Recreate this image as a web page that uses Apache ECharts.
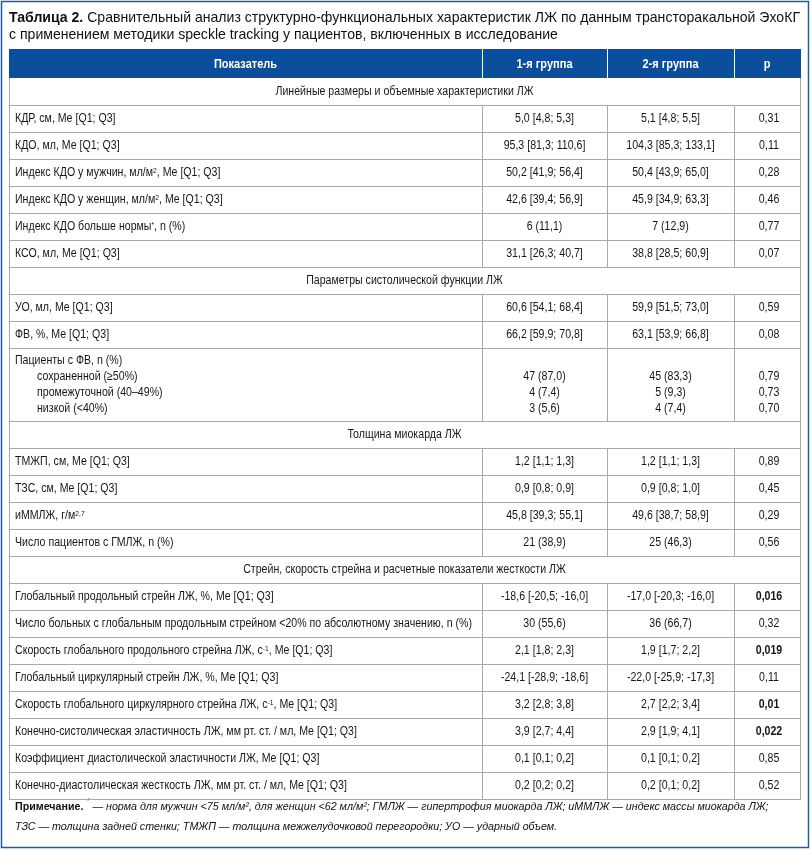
<!DOCTYPE html>
<html><head><meta charset="utf-8">
<script src="https://cdn.jsdelivr.net/npm/echarts@6/dist/echarts.min.js"></script>
<style>html,body{margin:0;padding:0;background:#fff}#c{width:811px;height:851px}</style>
</head><body><div id="c"></div>
<script>
const FONT = '"Liberation Sans", Arial, sans-serif';

// ---------- DATA ----------
const headers = ['Показатель', '1-я группа', '2-я группа', 'p'];
const sections = [
  'Линейные размеры и объемные характеристики ЛЖ',
  'Параметры систолической функции ЛЖ',
  'Толщина миокарда ЛЖ',
  'Стрейн, скорость стрейна и расчетные показатели жесткости ЛЖ'
];
const indicators = [
  'КДР, см, Me [Q1; Q3]',
  'КДО, мл, Me [Q1; Q3]',
  'Индекс КДО у мужчин, мл/м{sup|2}, Me [Q1; Q3]',
  'Индекс КДО у женщин, мл/м{sup|2}, Me [Q1; Q3]',
  'Индекс КДО больше нормы{sup|*}, n (%)',
  'КСО, мл, Me [Q1; Q3]',
  'УО, мл, Me [Q1; Q3]',
  'ФВ, %, Me [Q1; Q3]',
  'Пациенты с ФВ, n (%)',
  'ТМЖП, см, Me [Q1; Q3]',
  'ТЗС, см, Me [Q1; Q3]',
  'иММЛЖ, г/м{sup|2,7}',
  'Число пациентов с ГМЛЖ, n (%)',
  'Глобальный продольный стрейн ЛЖ, %, Me [Q1; Q3]',
  'Число больных с глобальным продольным стрейном <20% по абсолютному значению, n (%)',
  'Скорость глобального продольного стрейна ЛЖ, с{sup|-1}, Me [Q1; Q3]',
  'Глобальный циркулярный стрейн ЛЖ, %, Me [Q1; Q3]',
  'Скорость глобального циркулярного стрейна ЛЖ, с{sup|-1}, Me [Q1; Q3]',
  'Конечно-систолическая эластичность ЛЖ, мм рт. ст. / мл, Me [Q1; Q3]',
  'Коэффициент диастолической эластичности ЛЖ, Me [Q1; Q3]',
  'Конечно-диастолическая жесткость ЛЖ, мм рт. ст. / мл, Me [Q1; Q3]'
];
const rowSection = [0,0,0,0,0,0, 1,1,1, 2,2,2,2, 3,3,3,3,3,3,3,3];
const subItems = { 8: ['сохраненной (≥50%)', 'промежуточной (40–49%)', 'низкой (<40%)'] };
const group1 = [
  '5,0 [4,8; 5,3]', '95,3 [81,3; 110,6]', '50,2 [41,9; 56,4]', '42,6 [39,4; 56,9]', '6 (11,1)', '31,1 [26,3; 40,7]',
  '60,6 [54,1; 68,4]', '66,2 [59,9; 70,8]', ['47 (87,0)', '4 (7,4)', '3 (5,6)'],
  '1,2 [1,1; 1,3]', '0,9 [0,8; 0,9]', '45,8 [39,3; 55,1]', '21 (38,9)',
  '-18,6 [-20,5; -16,0]', '30 (55,6)', '2,1 [1,8; 2,3]', '-24,1 [-28,9; -18,6]', '3,2 [2,8; 3,8]', '3,9 [2,7; 4,4]', '0,1 [0,1; 0,2]', '0,2 [0,2; 0,2]'
];
const group2 = [
  '5,1 [4,8; 5,5]', '104,3 [85,3; 133,1]', '50,4 [43,9; 65,0]', '45,9 [34,9; 63,3]', '7 (12,9)', '38,8 [28,5; 60,9]',
  '59,9 [51,5; 73,0]', '63,1 [53,9; 66,8]', ['45 (83,3)', '5 (9,3)', '4 (7,4)'],
  '1,2 [1,1; 1,3]', '0,9 [0,8; 1,0]', '49,6 [38,7; 58,9]', '25 (46,3)',
  '-17,0 [-20,3; -16,0]', '36 (66,7)', '1,9 [1,7; 2,2]', '-22,0 [-25,9; -17,3]', '2,7 [2,2; 3,4]', '2,9 [1,9; 4,1]', '0,1 [0,1; 0,2]', '0,2 [0,1; 0,2]'
];
const pValues = [
  '0,31', '0,11', '0,28', '0,46', '0,77', '0,07',
  '0,59', '0,08', ['0,79', '0,73', '0,70'],
  '0,89', '0,45', '0,29', '0,56',
  '0,016', '0,32', '0,019', '0,11', '0,01', '0,022', '0,85', '0,52'
];
const significantRows = [13, 15, 17, 18];
const titleBold = 'Таблица 2.';
const titleLine1 = 'Сравнительный анализ структурно-функциональных характеристик ЛЖ по данным трансторакальной ЭхоКГ';
const titleLine2 = 'с применением методики speckle tracking у пациентов, включенных в исследование';
const noteBold = 'Примечание.';
const noteLine1 = ' — норма для мужчин <75 мл/м², для женщин <62 мл/м²; ГМЛЖ — гипертрофия миокарда ЛЖ; иММЛЖ — индекс массы миокарда ЛЖ;';
const noteLine2 = 'ТЗС — толщина задней стенки; ТМЖП — толщина межжелудочковой перегородки; УО — ударный объем.';

// ---------- LAYOUT ----------
const W = 791;
const colEdges = [0, 473, 598, 725, 791];
const HEADER_H = 29, ROW_H = 27, TALL_H = 73, LINE_H = 16;
const HEADER_BLUE = '#0b4f9c', FRAME_BLUE = '#1f5ba7', GRID_GRAY = '#a9a9a9', TXT = '#161616';
const FS = 12.5, TFS = 14.5, NFS = 11.5;

// narrow-face emulation: horizontal scale computed from measured widths
const mctx = document.createElement('canvas').getContext('2d');
function measure(str, size, extra) { mctx.font = (extra || '') + ' ' + size + 'px ' + FONT; return mctx.measureText(str).width; }
const SX = 457 / measure(indicators[14], FS);
const TSX = 791 / (measure(titleBold, TFS, 'bold') + measure(' ' + titleLine1, TFS));
const NSX = 542 / measure(noteLine2, NFS, 'italic');

const rows = [];
let yy = 0;
rows.push({kind: 'header', y0: yy, y1: yy + HEADER_H}); yy += HEADER_H;
let cur = -1;
indicators.forEach((name, i) => {
  if (rowSection[i] !== cur) {
    cur = rowSection[i];
    rows.push({kind: 'section', text: sections[cur], y0: yy, y1: yy + ROW_H}); yy += ROW_H;
  }
  const tall = Array.isArray(group1[i]);
  const h = tall ? TALL_H : ROW_H;
  rows.push({kind: tall ? 'tall' : 'data', i, y0: yy, y1: yy + h}); yy += h;
});
const TOTAL = yy;

const richSup = {
  sup: {fontSize: 8, verticalAlign: 'top', lineHeight: 8, fontFamily: FONT, fill: TXT, padding: [0, 0, 6, 0]}
};

function txt(x, y, text, opt) {
  opt = opt || {};
  return {
    type: 'text', x, y, scaleX: SX, silent: true,
    style: Object.assign({
      text, fontFamily: FONT, fontSize: FS, fill: TXT,
      align: 'center', verticalAlign: 'middle', rich: richSup
    }, opt)
  };
}
function hline(x1, x2, y, color) {
  const yc = Math.round(y) + 0.5;
  return {type: 'line', silent: true, shape: {x1, y1: yc, x2, y2: yc}, style: {stroke: color || GRID_GRAY, lineWidth: 1}};
}
function vline(x, y1, y2, color) {
  const xc = Math.round(x) + 0.5;
  return {type: 'line', silent: true, shape: {x1: xc, y1, x2: xc, y2}, style: {stroke: color || GRID_GRAY, lineWidth: 1}};
}

function renderItem(params, api) {
  const r = rows[params.dataIndex];
  const top = api.coord([0, api.value(1)])[1];
  const bot = api.coord([0, api.value(2)])[1];
  const xs = colEdges.map(e => api.coord([e, 0])[0]);
  const mid = (top + bot) / 2;
  const ch = [];
  if (r.kind === 'header') {
    ch.push({type: 'rect', silent: true, shape: {x: xs[0], y: top, width: xs[4] - xs[0] + 1, height: bot - top}, style: {fill: HEADER_BLUE}});
    for (let k = 1; k < 4; k++) ch.push(vline(xs[k], top, bot, '#ffffff'));
    headers.forEach((t, k) => ch.push(txt((xs[k] + xs[k + 1]) / 2, mid + 1, t, {fill: '#ffffff', fontWeight: 'bold', fontSize: 13})));
    return {type: 'group', children: ch};
  }
  ch.push(hline(xs[0], xs[4] + 1, bot));
  ch.push(vline(xs[0], top, bot + 1));
  ch.push(vline(xs[4], top, bot + 1));
  if (r.kind === 'section') {
    ch.push(txt((xs[0] + xs[4]) / 2, mid + 0.5, r.text));
  } else if (r.kind === 'data') {
    const i = r.i;
    for (let k = 1; k < 4; k++) ch.push(vline(xs[k], top, bot + 1));
    ch.push(txt(xs[0] + 6, mid + 0.5, indicators[i], {align: 'left'}));
    ch.push(txt((xs[1] + xs[2]) / 2, mid + 0.5, group1[i]));
    ch.push(txt((xs[2] + xs[3]) / 2, mid + 0.5, group2[i]));
    ch.push(txt((xs[3] + xs[4]) / 2 + 2, mid + 0.5, pValues[i],
      significantRows.indexOf(i) >= 0 ? {fontWeight: 'bold'} : {}));
  } else {
    const i = r.i;
    for (let k = 1; k < 4; k++) ch.push(vline(xs[k], top, bot + 1));
    const y0 = mid - 1.5 * LINE_H;
    ch.push(txt(xs[0] + 6, y0, indicators[i], {align: 'left'}));
    subItems[i].forEach((s, j) => ch.push(txt(xs[0] + 28, y0 + (j + 1) * LINE_H, s, {align: 'left'})));
    group1[i].forEach((s, j) => ch.push(txt((xs[1] + xs[2]) / 2, y0 + (j + 1) * LINE_H, s)));
    group2[i].forEach((s, j) => ch.push(txt((xs[2] + xs[3]) / 2, y0 + (j + 1) * LINE_H, s)));
    pValues[i].forEach((s, j) => ch.push(txt((xs[3] + xs[4]) / 2 + 2, y0 + (j + 1) * LINE_H, s)));
  }
  return {type: 'group', children: ch};
}

const chart = echarts.init(document.getElementById('c'), null, {renderer: 'canvas'});
chart.setOption({
  animation: false,
  backgroundColor: '#ffffff',
  grid: {left: 9, top: 49, width: W, height: TOTAL, containLabel: false},
  xAxis: {type: 'value', min: 0, max: W, show: false},
  yAxis: {type: 'value', min: 0, max: TOTAL, inverse: true, show: false},
  graphic: [
    {
      type: 'rect', silent: true, z: 100,
      shape: {x: 1.5, y: 1.5, width: 807, height: 846},
      style: {fill: 'none', stroke: FRAME_BLUE, lineWidth: 1.5}
    },
    {
      type: 'text', silent: true, x: 9, y: 10, scaleX: TSX,
      style: {
        text: '{b|' + titleBold + '}{n| ' + titleLine1 + '}\n{n|' + titleLine2 + '}',
        align: 'left', verticalAlign: 'top',
        rich: {
          b: {fontFamily: FONT, fontSize: TFS, fontWeight: 'bold', fill: '#111', lineHeight: 16.5},
          n: {fontFamily: FONT, fontSize: TFS, fontWeight: 'normal', fill: '#111', lineHeight: 16.5}
        }
      }
    },
    {
      type: 'text', silent: true, x: 15, y: 797, scaleX: NSX,
      style: {
        text: '{b|' + noteBold + '} {s|*}{i|' + noteLine1 + '}\n{i|' + noteLine2 + '}',
        align: 'left', verticalAlign: 'top',
        rich: {
          b: {fontFamily: FONT, fontSize: NFS, fontWeight: 'bold', fill: '#111', lineHeight: 20},
          s: {fontFamily: FONT, fontSize: 8, fontStyle: 'italic', fill: '#111', lineHeight: 8, verticalAlign: 'top', padding: [0, 0, 8, 0]},
          i: {fontFamily: FONT, fontSize: NFS, fontStyle: 'italic', fill: '#111', lineHeight: 20}
        }
      }
    }
  ],
  series: [{
    type: 'custom',
    coordinateSystem: 'cartesian2d',
    renderItem,
    clip: false,
    encode: {x: 0, y: 1},
    data: rows.map((r, k) => [k, r.y0, r.y1])
  }]
});
</script>
</body></html>
